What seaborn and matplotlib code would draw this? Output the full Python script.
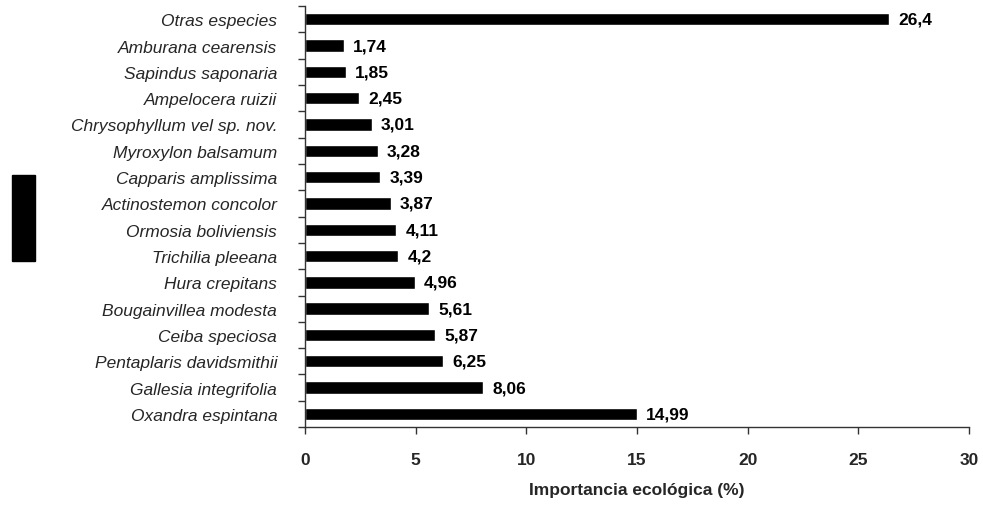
import matplotlib
matplotlib.use("Agg")
import matplotlib.pyplot as plt
from matplotlib.patches import Rectangle
from matplotlib.ticker import FixedLocator, NullFormatter
import seaborn as sns
import pandas as pd
import numpy as np

especies = ["Otras especies", "Amburana cearensis", "Sapindus saponaria",
            "Ampelocera ruizii", "Chrysophyllum vel sp. nov.", "Myroxylon balsamum",
            "Capparis amplissima", "Actinostemon concolor", "Ormosia boliviensis",
            "Trichilia pleeana", "Hura crepitans", "Bougainvillea modesta",
            "Ceiba speciosa", "Pentaplaris davidsmithii", "Gallesia integrifolia",
            "Oxandra espintana"]
valores = [26.4, 1.74, 1.85, 2.45, 3.01, 3.28, 3.39, 3.87, 4.11, 4.2,
           4.96, 5.61, 5.87, 6.25, 8.06, 14.99]
etiquetas = ["26,4", "1,74", "1,85", "2,45", "3,01", "3,28", "3,39", "3,87",
             "4,11", "4,2", "4,96", "5,61", "5,87", "6,25", "8,06", "14,99"]
x_ticks = [0, 5, 10, 15, 20, 25, 30]

df = pd.DataFrame({"especie": especies, "valor": valores})

sns.set_style("ticks")
plt.rcParams['font.family'] = ['Liberation Sans', 'DejaVu Sans']

fig = plt.figure(figsize=(9.83, 5.06), dpi=100)
ax = fig.add_axes([0.3103, 0.154, 0.6755, 0.832])

sns.barplot(data=df, x="valor", y="especie", orient="h", color="black",
            width=0.47, saturation=1, ax=ax)

# value labels
for i, (v, lab) in enumerate(zip(valores, etiquetas)):
    ax.text(v + 0.42, i, lab, va="center", ha="left", fontsize=12.5,
            fontweight="bold", color="black")

ax.set_xlim(0, 30)
ax.set_ylim(len(especies) - 0.5, -0.5)
ax.set_xticks(x_ticks)
ax.set_xticklabels([str(t) for t in x_ticks], fontsize=12.5, fontweight="bold")
ax.tick_params(axis="x", direction="out", length=5, pad=13, width=1, color="#333333")

# y labels at category centres, tick marks at boundaries
ax.tick_params(axis="y", which="major", length=0, pad=20, labelsize=12.5)
for t in ax.get_yticklabels():
    t.set_fontstyle("italic")
ax.yaxis.set_minor_locator(FixedLocator(np.arange(-0.5, len(especies), 1)))
ax.yaxis.set_minor_formatter(NullFormatter())
ax.tick_params(axis="y", which="minor", direction="out", length=5, width=1, color="#333333")

ax.set_ylabel("")
ax.set_xlabel("Importancia ecológica (%)", fontsize=12.5, fontweight="bold", labelpad=11)
sns.despine(ax=ax)
for s in ["left", "bottom"]:
    ax.spines[s].set_color("#333333")
    ax.spines[s].set_linewidth(1)

# leftover black legend block
fig.patches.append(Rectangle((12 / 983, 1 - 262 / 506), 23 / 983, 86 / 506,
                             transform=fig.transFigure, color="black"))

fig.savefig("out.png", dpi=100)
